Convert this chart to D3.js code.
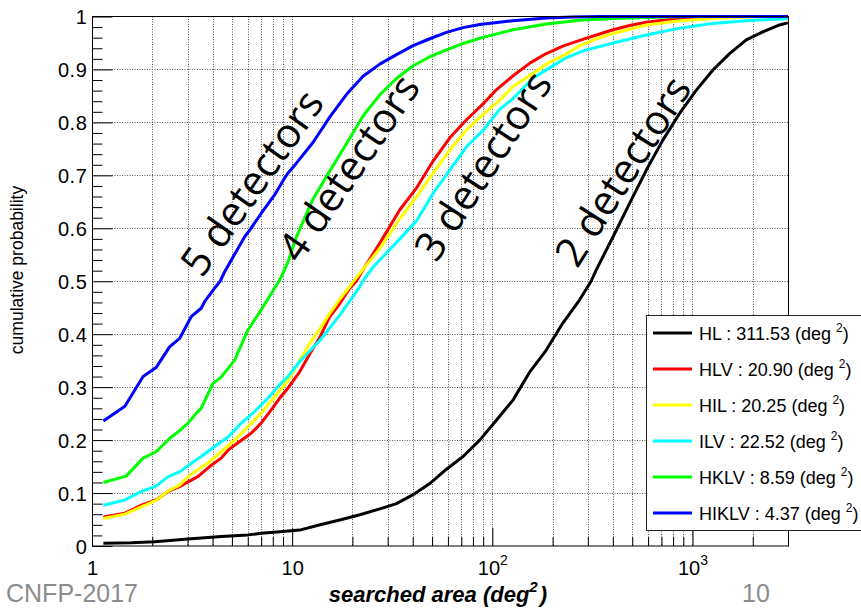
<!DOCTYPE html>
<html>
<head>
<meta charset="utf-8">
<script src="https://cdn.jsdelivr.net/npm/d3@7"></script>
<style>
  body { margin: 0; background: #fff; }
  svg { display: block; }
</style>
</head>
<body>
<svg id="chart" width="861" height="608"></svg>
<script>
// Cumulative probability of the searched sky area for each detector network.
// Each point: [searched area (deg^2), cumulative probability]
const HL = [[1.14,0.005],[1.57,0.006],[2.06,0.008],[3.02,0.013],[4.42,0.018],[6.01,0.021],[7.0,0.024],[8.68,0.027],[10.9,0.030],[13.8,0.040],[17.3,0.049],[21.8,0.059],[27.4,0.070],[33.2,0.080],[40.2,0.097],[48.7,0.118],[59.0,0.145],[71.4,0.169],[86.5,0.200],[105,0.238],[127,0.276],[154,0.329],[186,0.370],[225,0.421],[273,0.465],[311.53,0.500],[331,0.522],[401,0.584],[485,0.647],[588,0.710],[712,0.767],[862,0.817],[1045,0.861],[1265,0.899],[1532,0.930],[1856,0.956],[2246,0.971],[2722,0.984],[2994,0.988]];

const HLV = [[1.14,0.055],[1.46,0.062],[1.76,0.077],[2.09,0.087],[2.40,0.103],[2.74,0.112],[3.02,0.121],[3.38,0.131],[3.87,0.150],[4.42,0.166],[4.78,0.181],[5.36,0.195],[6.24,0.213],[7.00,0.232],[7.86,0.257],[8.65,0.279],[9.52,0.298],[10.9,0.329],[12.3,0.364],[13.8,0.395],[15.4,0.433],[17.3,0.458],[19.4,0.487],[20.90,0.500],[21.8,0.512],[27.4,0.572],[34.5,0.635],[41.8,0.676],[50.6,0.727],[61.3,0.771],[74.3,0.805],[89.9,0.835],[105,0.862],[127,0.888],[154,0.912],[186,0.930],[225,0.944],[273,0.955],[331,0.965],[401,0.975],[485,0.983],[588,0.989],[712,0.993],[1045,0.998],[1500,1.0],[3000,1.0]];

const HIL = [[1.14,0.052],[1.46,0.060],[1.76,0.074],[2.09,0.086],[2.40,0.104],[2.74,0.115],[3.02,0.131],[3.38,0.144],[3.87,0.159],[4.42,0.178],[5.16,0.200],[6.01,0.225],[7.00,0.251],[8.17,0.282],[9.52,0.312],[10.9,0.350],[12.3,0.384],[13.8,0.411],[15.4,0.439],[17.3,0.466],[19.4,0.490],[20.25,0.500],[21.8,0.515],[27.4,0.562],[34.5,0.618],[41.8,0.660],[50.6,0.704],[61.3,0.748],[74.3,0.786],[89.9,0.815],[109,0.842],[127,0.868],[160,0.893],[193,0.914],[234,0.929],[273,0.945],[331,0.958],[401,0.968],[588,0.984],[862,0.992],[1265,0.996],[1856,0.999],[3000,1.0]];

const ILV = [[1.14,0.077],[1.46,0.087],[1.76,0.103],[2.09,0.113],[2.40,0.131],[2.74,0.140],[3.13,0.156],[3.51,0.169],[4.10,0.188],[4.78,0.206],[5.57,0.232],[6.49,0.254],[7.56,0.279],[8.48,0.301],[9.52,0.320],[10.9,0.348],[13.8,0.389],[17.3,0.436],[21.8,0.490],[22.52,0.500],[25.4,0.527],[27.4,0.540],[34.5,0.580],[41.8,0.614],[50.6,0.666],[61.3,0.710],[74.3,0.754],[89.9,0.785],[109,0.825],[127,0.845],[160,0.884],[193,0.903],[234,0.922],[284,0.935],[401,0.950],[588,0.965],[862,0.978],[1265,0.987],[1856,0.992],[3000,0.996]];

const HKLV = [[1.14,0.120],[1.48,0.132],[1.80,0.166],[2.09,0.178],[2.44,0.203],[2.74,0.218],[3.02,0.232],[3.32,0.251],[3.51,0.260],[4.02,0.307],[4.42,0.319],[5.16,0.351],[6.01,0.408],[7.00,0.446],[7.86,0.477],[8.59,0.500],[8.99,0.515],[9.5,0.535],[10.5,0.584],[12.7,0.655],[15.4,0.708],[18.7,0.760],[22.6,0.812],[27.4,0.852],[33.2,0.883],[40.2,0.907],[48.7,0.924],[59.0,0.937],[71.4,0.949],[86.5,0.959],[127,0.975],[186,0.986],[273,0.993],[401,0.996],[740,0.999],[1000,1.0],[3000,1.0]];

const HIKLV = [[1.14,0.236],[1.46,0.264],[1.80,0.320],[2.09,0.337],[2.44,0.376],[2.74,0.392],[3.13,0.433],[3.51,0.449],[3.66,0.462],[4.10,0.487],[4.37,0.500],[4.60,0.518],[5.79,0.584],[6.15,0.597],[7.00,0.628],[8.17,0.663],[9.00,0.690],[9.52,0.704],[10.5,0.723],[12.7,0.762],[15.4,0.810],[18.7,0.853],[22.6,0.887],[27.4,0.910],[33.2,0.928],[40.2,0.945],[48.7,0.958],[59.0,0.970],[71.4,0.979],[86.5,0.985],[127,0.992],[186,0.997],[250,0.999],[344,1.0],[3000,1.0]];

const seriesNames   = ["HL", "HLV", "HIL", "ILV", "HKLV", "HIKLV"];
const seriesData    = [HL, HLV, HIL, ILV, HKLV, HIKLV];
const medianAreas   = ["311.53", "20.90", "20.25", "22.52", "8.59", "4.37"];
const seriesColors  = ["#000000", "#ff0000", "#ffff00", "#00ffff", "#00ff00", "#0000ff"];

const yMajorTicks = [0, 0.1, 0.2, 0.3, 0.4, 0.5, 0.6, 0.7, 0.8, 0.9, 1];
const yTickLabels = ["0", "0.1", "0.2", "0.3", "0.4", "0.5", "0.6", "0.7", "0.8", "0.9", "1"];
const xMajorTicks = [1, 10, 100, 1000];
const xTickBase   = ["1", "10", "10", "10"];
const xTickExp    = ["", "", "2", "3"];

// Network annotations: [text, area, probability, angle]
const networkLabels = [
  ["5 detectors", 6.30, 0.686, -55],
  ["4 detectors", 19.2, 0.714, -55.5],
  ["3 detectors", 89.8, 0.718, -57],
  ["2 detectors", 449, 0.708, -57.5]
];

const svg = d3.select("#chart");
const frame = { left: 92, right: 788, top: 16.5, bottom: 546 };

const x = d3.scaleLog().domain([1, 3000]).range([frame.left, frame.right]);
const y = d3.scaleLinear().domain([0, 1]).range([frame.bottom, frame.top]);

const snap = v => Math.round(v) + 0.5;

// minor log positions 2..9 in each decade
const xMinorTicks = [];
[1, 10, 100, 1000].forEach(d => {
  for (let m = 2; m <= 9; m++) {
    const v = d * m;
    if (v < 3000) xMinorTicks.push(v);
  }
});
const yMinorTicks = d3.range(0, 51).map(i => i / 50).filter(v => Math.round(v * 50) % 5 !== 0);

// dotted grid
const grid = svg.append("g").attr("stroke", "#555").attr("stroke-width", 1)
  .attr("stroke-dasharray", "1,1.5").attr("fill", "none");
const gridX = xMinorTicks.concat([10, 100, 1000]);
grid.selectAll("line.gx").data(gridX).join("line")
  .attr("x1", d => snap(x(d))).attr("x2", d => snap(x(d)))
  .attr("y1", frame.top).attr("y2", frame.bottom);
grid.selectAll("line.gy").data(yMajorTicks.filter(v => v > 0 && v < 1)).join("line")
  .attr("class", "gy")
  .attr("x1", frame.left).attr("x2", frame.right)
  .attr("y1", d => snap(y(d))).attr("y2", d => snap(y(d)));

// curves
svg.append("defs").append("clipPath").attr("id", "plotClip")
  .append("rect").attr("x", frame.left).attr("y", frame.top - 2)
  .attr("width", frame.right - frame.left).attr("height", frame.bottom - frame.top + 2);

const line = d3.line().x(d => x(d[0])).y(d => y(d[1]));
svg.append("g").attr("clip-path", "url(#plotClip)")
  .selectAll("path").data(seriesData).join("path")
  .attr("d", line)
  .attr("fill", "none")
  .attr("stroke", (d, i) => seriesColors[i])
  .attr("stroke-width", 3)
  .attr("stroke-linejoin", "round");

// frame
svg.append("rect")
  .attr("x", frame.left + 0.5).attr("y", frame.top)
  .attr("width", frame.right - frame.left).attr("height", frame.bottom - frame.top)
  .attr("fill", "none").attr("stroke", "#000").attr("stroke-width", 1);

const tickFont = "'Liberation Sans', Arial, sans-serif";

// Y axis (ticks pointing inward)
const yAxisMinor = d3.axisLeft(y).tickValues(yMinorTicks).tickSize(-10).tickFormat("");
const yAxisMajor = d3.axisLeft(y).tickValues(yMajorTicks).tickSizeInner(-20).tickSizeOuter(0)
  .tickPadding(5).tickFormat((d, i) => yTickLabels[i]);
svg.append("g").attr("transform", `translate(${frame.left + 0.5},0)`).call(yAxisMinor)
  .call(g => g.select(".domain").remove());
const gy = svg.append("g").attr("transform", `translate(${frame.left + 0.5},0)`).call(yAxisMajor);
gy.select(".domain").remove();
gy.selectAll("text").attr("font-family", tickFont).attr("font-size", 20)
  .attr("letter-spacing", 0.6).attr("fill", "#000").attr("dy", "0.36em");
svg.selectAll(".tick line").attr("stroke", "#000");

// X axis (ticks pointing inward)
const xAxisMinor = d3.axisBottom(x).tickValues(xMinorTicks).tickSize(-9).tickFormat("");
const xAxisMajor = d3.axisBottom(x).tickValues(xMajorTicks).tickSizeInner(-18).tickSizeOuter(0)
  .tickPadding(15).tickFormat("");
svg.append("g").attr("transform", `translate(0,${frame.bottom})`).call(xAxisMinor)
  .call(g => g.select(".domain").remove());
const gx = svg.append("g").attr("transform", `translate(0,${frame.bottom})`).call(xAxisMajor);
gx.select(".domain").remove();
gx.selectAll(".tick text").each(function(d, i) {
  const t = d3.select(this).attr("font-family", tickFont).attr("font-size", 20).attr("fill", "#000");
  t.append("tspan").text(xTickBase[i]);
  if (xTickExp[i]) t.append("tspan").attr("font-size", 14).attr("dy", "-0.75em").text(xTickExp[i]);
});
svg.selectAll(".tick line").attr("stroke", "#000");

// axis titles
const xt = svg.append("text").attr("x", 547).attr("y", 602).attr("text-anchor", "end")
  .attr("font-family", tickFont).attr("font-size", 22).attr("font-weight", "bold")
  .attr("font-style", "italic").attr("fill", "#000");
xt.append("tspan").text("searched area (deg");
xt.append("tspan").attr("font-size", 15).attr("dy", -10).text("2");
xt.append("tspan").attr("dy", 10).attr("dx", 2).text(")");

svg.append("text").attr("transform", "translate(23,270) rotate(-90)")
  .attr("text-anchor", "middle").attr("font-family", tickFont).attr("font-size", 17.5)
  .attr("fill", "#000").text("cumulative probability");

// network annotations
svg.append("g").selectAll("text").data(networkLabels).join("text")
  .attr("transform", d => `translate(${x(d[1])},${y(d[2])}) rotate(${d[3]})`)
  .attr("text-anchor", "middle").attr("dy", "0.35em")
  .attr("font-family", "'Open Sans', 'Noto Sans', sans-serif").attr("font-size", 41)
  .attr("fill", "#000").text(d => d[0]);

// legend
const lg = svg.append("g");
lg.append("rect").attr("x", 646.5).attr("y", 315.5).attr("width", 260).attr("height", 215)
  .attr("fill", "#fff").attr("stroke", "#222").attr("stroke-width", 1);
seriesNames.forEach((name, i) => {
  const cy = 333 + i * 36;
  lg.append("line").attr("x1", 653).attr("x2", 692).attr("y1", cy).attr("y2", cy)
    .attr("stroke", seriesColors[i]).attr("stroke-width", 3);
  const t = lg.append("text").attr("x", 699).attr("y", cy + 6.5)
    .attr("font-family", tickFont).attr("font-size", 18).attr("fill", "#000")
    .style("white-space", "pre");
  t.append("tspan").text(`${name} : ${medianAreas[i]} (deg `);
  t.append("tspan").attr("font-size", 12).attr("dy", -8).text("2");
  t.append("tspan").attr("dy", 8).text(")");
});

// footer
const footFont = "'Liberation Sans', Arial, sans-serif";
svg.append("text").attr("x", 138).attr("y", 602).attr("text-anchor", "end")
  .attr("font-family", footFont).attr("font-size", 25).attr("fill", "#8c8c8c")
  .text("CNFP-2017");
svg.append("text").attr("x", 742).attr("y", 602)
  .attr("font-family", footFont).attr("font-size", 25).attr("fill", "#8c8c8c")
  .text("10");
</script>
</body>
</html>
